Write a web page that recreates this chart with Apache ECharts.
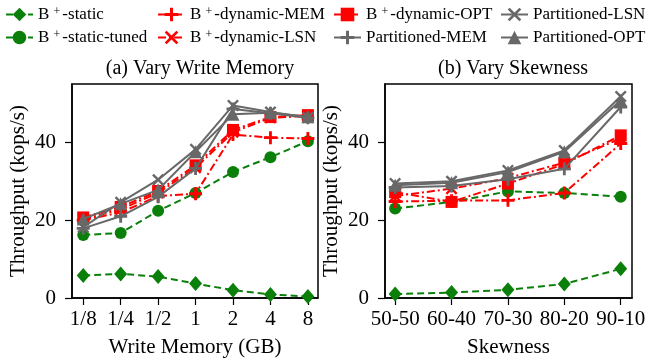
<!DOCTYPE html>
<html>
<head>
<meta charset="utf-8">
<script src="https://cdn.jsdelivr.net/npm/echarts@6/dist/echarts.min.js"></script>
<style>html,body{margin:0;padding:0;background:#fff}#c{width:647px;height:360px}</style>
</head>
<body>
<div id="c"></div>
<script>
// ---------- data ----------
const memCategories = ['1/8', '1/4', '1/2', '1', '2', '4', '8'];
const skewCategories = ['50-50', '60-40', '70-30', '80-20', '90-10'];
const yTicks = [0, 20, 40];

const memStatic   = [5.8, 6.2, 5.5, 3.7, 2.0, 0.9, 0.4];
const memTuned    = [16.2, 16.7, 22.4, 27.0, 32.4, 36.2, 40.3];
const memDynMEM   = [20.0, 22.0, 26.2, 26.8, 42.0, 41.2, 41.0];
const memDynLSN   = [20.3, 22.8, 27.0, 33.5, 42.6, 46.3, 46.8];
const memDynOPT   = [20.7, 23.4, 27.5, 34.1, 43.2, 46.5, 47.0];
const memPartMEM  = [17.9, 21.0, 26.0, 33.3, 48.6, 47.5, 46.3];
const memPartLSN  = [18.2, 24.6, 30.4, 38.2, 49.5, 47.8, 46.4];
const memPartOPT  = [20.3, 24.2, 27.8, 37.6, 47.2, 47.6, 46.6];

const skewStatic  = [1.0, 1.4, 2.1, 3.6, 7.5];
const skewTuned   = [23.0, 24.7, 27.4, 27.0, 26.0];
const skewDynMEM  = [24.8, 25.0, 25.1, 27.0, 39.7];
const skewDynLSN  = [26.2, 28.1, 30.8, 34.8, 41.0];
const skewDynOPT  = [27.2, 24.7, 29.4, 34.4, 41.8];
const skewPartMEM = [28.4, 28.8, 30.5, 33.2, 49.1];
const skewPartLSN = [29.4, 30.0, 32.8, 37.9, 51.8];
const skewPartOPT = [29.0, 29.6, 32.4, 37.6, 50.8];

const seriesNames = ['B+-static', 'B+-static-tuned', 'B+-dynamic-MEM', 'B+-dynamic-LSN',
  'B+-dynamic-OPT', 'Partitioned-MEM', 'Partitioned-LSN', 'Partitioned-OPT'];
const memData  = [memStatic, memTuned, memDynMEM, memDynLSN, memDynOPT, memPartMEM, memPartLSN, memPartOPT];
const skewData = [skewStatic, skewTuned, skewDynMEM, skewDynLSN, skewDynOPT, skewPartMEM, skewPartLSN, skewPartOPT];

// ---------- styles ----------
const FONT = '"Liberation Serif", "Times New Roman", serif';
const GREEN = '#0a800a', RED = '#ff0000', GRAY = '#686868';
const PLUS = 'path://M-1.1,-5H1.1V-1.1H5V1.1H1.1V5H-1.1V1.1H-5V-1.1H-1.1Z';
const CROSS = 'path://M-3.6,-5L0,-1.4L3.6,-5L5,-3.6L1.4,0L5,3.6L3.6,5L0,1.4L-3.6,5L-5,3.6L-1.4,0L-5,-3.6Z';
const DASH = [7, 4];
const DASHDOT = [8, 3, 2, 3];
const styles = [
  {color: GREEN, type: DASH, symbol: 'diamond', size: [13, 15]},
  {color: GREEN, type: DASH, symbol: 'circle', size: 12},
  {color: RED, type: DASHDOT, symbol: PLUS, size: 13},
  {color: RED, type: DASHDOT, symbol: CROSS, size: 12},
  {color: RED, type: DASHDOT, symbol: 'rect', size: 12},
  {color: GRAY, type: 'solid', symbol: PLUS, size: 13},
  {color: GRAY, type: 'solid', symbol: CROSS, size: 12},
  {color: GRAY, type: 'solid', symbol: 'triangle', size: 13}
];

const chart = echarts.init(document.getElementById('c'), null, {renderer: 'canvas'});

function makeSeries(dataArr, axisIdx) {
  return dataArr.map((vals, i) => ({
    name: seriesNames[i],
    type: 'line',
    xAxisIndex: axisIdx, yAxisIndex: axisIdx,
    data: vals.map((v, k) => [k, v]),
    symbol: styles[i].symbol,
    symbolSize: styles[i].size,
    itemStyle: {color: styles[i].color},
    lineStyle: {color: styles[i].color, width: 2, type: styles[i].type},
    z: 2 + i,
    animation: false
  }));
}

const legendPos = [
  [5, 6], [5, 29], [157, 6], [157, 29], [333, 6], [333, 29], [500, 6], [500, 29]
];
const legendOrder = ['B+-static', 'B+-static-tuned', 'B+-dynamic-MEM', 'B+-dynamic-LSN',
  'B+-dynamic-OPT', 'Partitioned-MEM', 'Partitioned-LSN', 'Partitioned-OPT'];

const legends = legendOrder.map((n, i) => ({
  data: [n],
  left: legendPos[i][0], top: legendPos[i][1],
  padding: 0, itemWidth: 27, itemHeight: 17, itemGap: 0,
  formatter: name => name.replace('B+', 'B {sup|+}'),
  textStyle: {
    fontFamily: FONT, fontSize: 17, color: '#000', padding: [0, 0, 0, 0],
    rich: {sup: {fontFamily: FONT, fontSize: 12, color: '#000', verticalAlign: 'top', padding: [0, 2, 0, 0]}}
  },
  selectedMode: false
}));

function xAxis(gridIdx, cats, min, max, nameText) {
  const idx = cats.map((c, k) => k);
  return {
    gridIndex: gridIdx, type: 'value', min: min, max: max,
    name: nameText, nameLocation: 'middle', nameGap: 39,
    nameTextStyle: {fontFamily: FONT, fontSize: 21, color: '#000'},
    axisLine: {show: true, onZero: false, lineStyle: {color: '#000', width: 1.5}},
    axisTick: {show: true, inside: false, length: 7, lineStyle: {color: '#000', width: 1.2}, customValues: idx},
    axisLabel: {fontFamily: FONT, fontSize: 21, color: '#000', margin: 11, customValues: idx,
      formatter: v => cats[Math.round(v)]},
    splitLine: {show: false}
  };
}
function yAxis(gridIdx) {
  return {
    gridIndex: gridIdx, type: 'value', min: 0, max: 55,
    name: 'Throughput (kops/s)', nameLocation: 'middle', nameGap: 43,
    nameTextStyle: {fontFamily: FONT, fontSize: 21, color: '#000'},
    axisLine: {show: true, onZero: false, lineStyle: {color: '#000', width: 1.5}},
    axisTick: {show: true, inside: false, length: 7, lineStyle: {color: '#000', width: 1.2}, customValues: yTicks},
    axisLabel: {fontFamily: FONT, fontSize: 21, color: '#000', margin: 16, customValues: yTicks},
    splitLine: {show: false}
  };
}

chart.setOption({
  backgroundColor: '#fff',
  animation: false,
  title: [
    {text: '(a) Vary Write Memory', left: 195, top: 54, textAlign: 'center',
      textStyle: {fontFamily: FONT, fontSize: 20, fontWeight: 'normal', color: '#000'}},
    {text: '(b) Vary Skewness', left: 508, top: 54, textAlign: 'center',
      textStyle: {fontFamily: FONT, fontSize: 20, fontWeight: 'normal', color: '#000'}}
  ],
  legend: legends,
  grid: [
    {left: 72, top: 84, width: 246, height: 214, show: true, borderColor: '#000', borderWidth: 1.5,
      backgroundColor: 'transparent', outerBoundsMode: 'none', containLabel: false},
    {left: 385, top: 84, width: 247, height: 214, show: true, borderColor: '#000', borderWidth: 1.5,
      backgroundColor: 'transparent', outerBoundsMode: 'none', containLabel: false}
  ],
  xAxis: [
    xAxis(0, memCategories, -0.3, 6.27, 'Write Memory (GB)'),
    xAxis(1, skewCategories, -0.18, 4.2, 'Skewness')
  ],
  yAxis: [yAxis(0), yAxis(1)],
  series: makeSeries(memData, 0).concat(makeSeries(skewData, 1))
});
</script>
</body>
</html>
